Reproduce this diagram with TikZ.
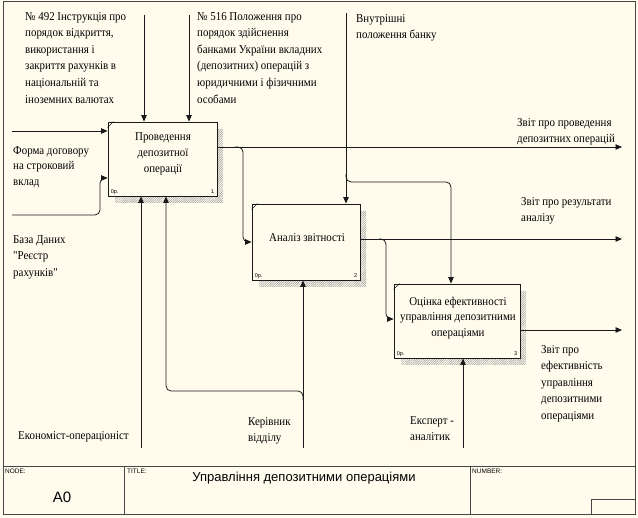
\documentclass[tikz,border=0pt]{standalone}
\usepackage{fontspec}
\setmainfont{Liberation Serif}[FakeStretch=0.91,Ligatures=TeXOff]
\newfontfamily\idefsans{Liberation Sans}
\usetikzlibrary{arrows.meta,calc,patterns.meta}
\definecolor{bgcream}{RGB}{255,252,238}
\definecolor{ink}{RGB}{25,25,25}
\definecolor{framec}{RGB}{70,70,70}
\begin{document}
\begin{tikzpicture}[x=1pt,y=-1pt,
  box/.style={draw=ink,line width=0.9pt,fill=bgcream,inner sep=0pt},
  boxtxt/.style={font=\fontsize{12}{16}\selectfont,align=center,inner sep=0pt},
  lbl/.style={font=\fontsize{12}{16.6}\selectfont,align=left,inner sep=0pt,anchor=north west},
  tinytxt/.style={font=\idefsans\fontsize{5.5}{6}\selectfont,inner sep=0pt},
  frm/.style={font=\idefsans\fontsize{6.5}{7}\selectfont,inner sep=0pt,anchor=north west},
  arr/.style={draw=ink,line width=0.8pt,-{Triangle[length=6.5pt,width=5.5pt]}},
  rarr/.style={arr,rounded corners=5pt},
  shadowc/.style={draw=none,pattern={Lines[angle=45,distance=1.6pt,line width=0.5pt]},pattern color=gray!80}
]
\useasboundingbox[fill=bgcream] (0,0) rectangle (638,518);
% frame
\draw[framec,line width=0.9pt] (3,1) rectangle (635,514);
\draw[framec,line width=0.9pt] (3,466) -- (635,466);
\draw[framec,line width=0.9pt] (124,466) -- (124,514);
\draw[framec,line width=0.9pt] (470,466) -- (470,514);
\draw[framec,line width=0.9pt] (591,499) rectangle (635,514);
\node[frm] (fnode) at (5,469) {NODE:};
\node[frm] (ftitle) at (127,469) {TITLE:};
\node[frm] (fnum) at (472,469) {NUMBER:};
\node[font=\idefsans\fontsize{15}{16}\selectfont,inner sep=0pt] (fa0) at (62,497) {A0};
\node[font=\idefsans\fontsize{13}{14}\selectfont,inner sep=0pt] (fttl) at (304,478) {Управління депозитними операціями};

% shadows
\foreach \b/\x/\y/\X/\Y in {1/108/122/217/196, 2/252/204/360/280, 3/394/284/520/358}{
  \fill[shadowc] (\X,\y+7) -- (\X+6,\y+7) -- (\X+6,\Y+7) -- (\x+7,\Y+7) -- (\x+7,\Y) -- (\X,\Y) -- cycle;
}
% boxes
\node[box,minimum width=109,minimum height=74] (b1) at (162.5,159) {};
\node[box,minimum width=108,minimum height=76] (b2) at (306,242) {};
\node[box,minimum width=126,minimum height=74] (b3) at (457,321) {};
\foreach \b in {b1,b2,b3}{
  \draw[ink,line width=0.5pt] ($(\b.north west)+(0,6)$) -- ($(\b.north west)+(6,0)$);
}
\node[boxtxt] (t1) at (163,154) {Проведення\\депозитної\\операції};
\node[boxtxt] (t2) at (307,238) {Аналіз звітності};
\node[boxtxt,font=\fontsize{12}{15.5}\selectfont] (t3) at (458,318) {Оцінка ефективності\\управління депозитними\\операціями};
\node[tinytxt,anchor=base west] (n1a) at ($(b1.south west)+(3,-3)$) {0р.};
\node[tinytxt,anchor=base east] (n1b) at ($(b1.south east)+(-3,-3)$) {1};
\node[tinytxt,anchor=base west] (n2a) at ($(b2.south west)+(3,-3)$) {0р.};
\node[tinytxt,anchor=base east] (n2b) at ($(b2.south east)+(-3,-3)$) {2};
\node[tinytxt,anchor=base west] (n3a) at ($(b3.south west)+(3,-3)$) {0р.};
\node[tinytxt,anchor=base east] (n3b) at ($(b3.south east)+(-3,-3)$) {3};

% labels
\node[lbl] (l1) at (25,12) {№ 492 Інструкція про\\порядок відкриття,\\використання і\\закриття рахунків в\\національній та\\іноземних валютах};
\node[lbl] (l2) at (197,12) {№ 516 Положення про\\порядок здійснення\\банками України вкладних\\(депозитних) операцій з\\юридичними і фізичними\\особами};
\node[lbl] (l3) at (356,14) {Внутрішні\\положення банку};
\node[lbl,font=\fontsize{12}{15.8}\selectfont] (l4) at (13,146) {Форма договору\\на строковий\\вклад};
\node[lbl] (l5) at (13,235) {База Даних\\"Реєстр\\рахунків"};
\node[lbl] (l6) at (18,431) {Економіст-операціоніст};
\node[lbl] (l7) at (248,417) {Керівник\\відділу};
\node[lbl] (l8) at (410,416) {Експерт -\\аналітик};
\node[lbl] (l9) at (517,118) {Звіт про проведення\\депозитних операцій};
\node[lbl] (l10) at (521,197) {Звіт про результати\\аналізу};
\node[lbl] (l11) at (541,345) {Звіт про\\ефективність\\управління\\депозитними\\операціями};

% coordinates
\coordinate (in1) at (12,131);
\coordinate (in2) at (12,215);
\coordinate (j2) at (100,178);
\coordinate (c1) at (144,15);
\coordinate (c2) at (189,15);
\coordinate (c3) at (346,13);
\coordinate (m1) at (141,448);
\coordinate (m2) at (303,448);
\coordinate (m3) at (463,448);
\coordinate (o1) at (622,147);
\coordinate (o2) at (622,239);
\coordinate (o3) at (622,330);
\coordinate (k1a) at (235,147);
\coordinate (k1) at (243,242);
\coordinate (k2a) at (346,174);
\coordinate (k2) at (451,182);
\coordinate (k3a) at (303,400);
\coordinate (k3) at (166,391);
\coordinate (k4a) at (379,239);
\coordinate (k4) at (386,319);

% arrows
\draw[arr] (in1) -- (in1 -| b1.west);
\draw[rarr] (in2) -| (j2) -- (j2 -| b1.west);
\draw[arr] (c1) -- (c1 |- b1.north);
\draw[arr] (c2) -- (c2 |- b1.north);
\draw[arr] (c3) -- (c3 |- b2.north);
\draw[arr] (m1) -- (m1 |- b1.south);
\draw[arr] (m2) -- (m2 |- b2.south);
\draw[arr] (m3) -- (m3 |- b3.south);
\draw[arr] (o1 -| b1.east) -- (o1);
\draw[arr] (o2 -| b2.east) -- (o2);
\draw[arr] (o3 -| b3.east) -- (o3);
\draw[rarr] (k1a) -| (k1) -- (k1 -| b2.west);
\draw[rarr] (k2a) |- (k2) -- (k2 |- b3.north);
\draw[rarr] (k3a) |- (k3) -- (k3 |- b1.south);
\draw[rarr] (k4a) -| (k4) -- (k4 -| b3.west);
\end{tikzpicture}
\end{document}
